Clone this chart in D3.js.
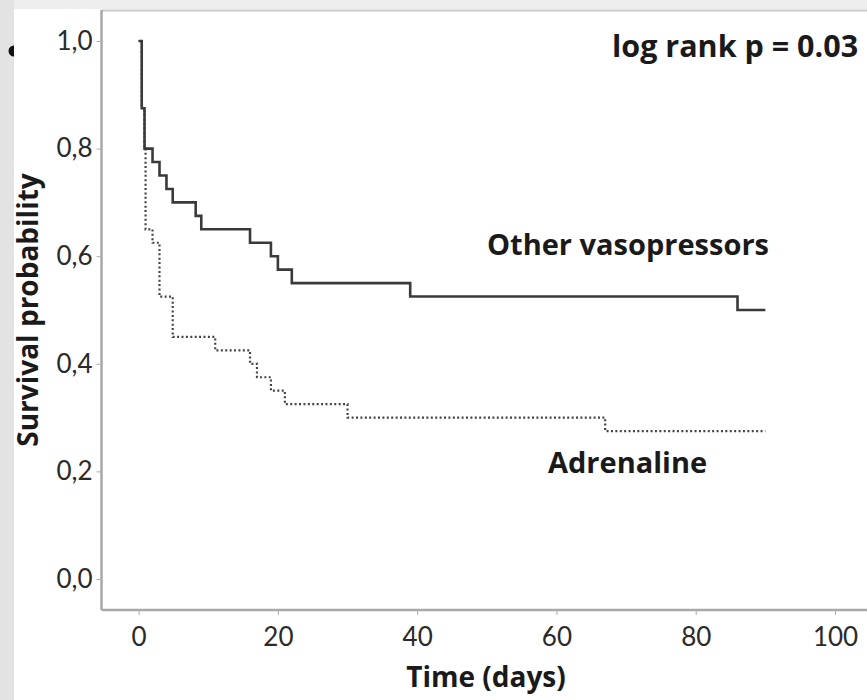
<!DOCTYPE html>
<html>
<head>
    <style>
        html,
        body {
            width: 100%;
            height: 100%;
            margin: 0;
            padding: 0;
            overflow: hidden;
            background: #e3e3e3;
        }
        text {
            font-family: "Open Sans", Lato, sans-serif;
        }
    </style>
</head>
<body>
<script src="https://d3js.org/d3.v7.min.js"></script>
<script>
    // Kaplan-Meier steps (time in days, survival probability)
    const otherTimes = [0, 0.45, 0.85, 2, 3, 4, 4.9, 8.2, 9, 16, 19, 20, 22, 39, 86, 90];
    const otherSurv = [1.0, 0.875, 0.8, 0.775, 0.75, 0.725, 0.7, 0.675, 0.65, 0.625, 0.6, 0.575, 0.55, 0.525, 0.5, 0.5];

    const adrTimes = [0, 0.45, 0.85, 1, 2, 3, 4.9, 11, 16, 17, 19, 21, 30, 67, 90];
    const adrSurv = [1.0, 0.875, 0.8, 0.65, 0.625, 0.525, 0.45, 0.425, 0.4, 0.375, 0.35, 0.325, 0.3, 0.275, 0.275];

    const xTicks = [0, 20, 40, 60, 80, 100];
    const yTicks = [0, 0.2, 0.4, 0.6, 0.8, 1.0];

    const width = 867;
    const height = 700;

    const svg = d3.select("body")
        .append("svg")
        .attr("width", width)
        .attr("height", height);

    // the slide background: grey strips left and top, a bullet peeking out
    svg.append("rect")
        .attr("x", 14).attr("y", 0)
        .attr("width", width - 14).attr("height", 9)
        .attr("fill", "#eeeeee");
    svg.append("circle")
        .attr("cx", 14).attr("cy", 51).attr("r", 5.5)
        .attr("fill", "#111");
    svg.append("rect")
        .attr("x", 14).attr("y", 9)
        .attr("width", width - 14).attr("height", height - 9)
        .attr("fill", "#fff");

    const x = d3.scaleLinear().domain([0, 100]).range([138.6, 835]);
    const y = d3.scaleLinear().domain([0, 1]).range([579, 41]);

    const axisLeftX = 101.5;
    const axisBottomY = 610;

    // frame lines
    svg.append("line")
        .attr("x1", axisLeftX).attr("x2", width)
        .attr("y1", 10.5).attr("y2", 10.5)
        .style("stroke", "#cacaca")
        .style("stroke-width", 2);
    svg.append("line")
        .attr("x1", axisLeftX).attr("x2", axisLeftX)
        .attr("y1", 10).attr("y2", axisBottomY)
        .style("stroke", "#a8a8a8")
        .style("stroke-width", 2.5);
    svg.append("line")
        .attr("x1", axisLeftX).attr("x2", width)
        .attr("y1", axisBottomY).attr("y2", axisBottomY)
        .style("stroke", "#a8a8a8")
        .style("stroke-width", 2.5);

    // y axis
    const yAxis = svg.append("g")
        .attr("transform", `translate(${axisLeftX - 1},0)`)
        .call(d3.axisLeft(y)
            .tickValues(yTicks)
            .tickSize(4)
            .tickPadding(4)
            .tickFormat(d => d3.format(".1f")(d).replace(".", ",")));
    yAxis.select(".domain").remove();

    // x axis
    const xAxis = svg.append("g")
        .attr("transform", `translate(0,${axisBottomY + 1})`)
        .call(d3.axisBottom(x)
            .tickValues(xTicks)
            .tickSize(4)
            .tickPadding(13));
    xAxis.select(".domain").remove();

    svg.selectAll(".tick line")
        .style("stroke", "#aaa");
    svg.selectAll(".tick text")
        .style("font-family", "Lato, sans-serif")
        .style("font-size", "26px")
        .style("fill", "#2a2a2a");

    // survival curves
    const line = d3.line()
        .x(d => x(d[0]))
        .y(d => y(d[1]))
        .curve(d3.curveStepAfter);

    svg.append("path")
        .datum(d3.zip(adrTimes, adrSurv))
        .attr("d", line)
        .style("fill", "none")
        .style("stroke", "#444")
        .style("stroke-width", 2.2)
        .style("stroke-dasharray", "2,2.4");

    svg.append("path")
        .datum(d3.zip(otherTimes, otherSurv))
        .attr("d", line)
        .style("fill", "none")
        .style("stroke", "#3a3a3a")
        .style("stroke-width", 2.6);

    // labels
    const label = (txt, px, py, size) => svg.append("text")
        .attr("x", px)
        .attr("y", py)
        .style("font-size", size + "px")
        .style("font-weight", "bold")
        .style("fill", "#1a1a1a")
        .text(txt);

    label("log rank p = 0.03", 612, 57, 30.5);
    label("Other vasopressors", 487, 255, 29);
    label("Adrenaline", 548, 473, 29);
    label("Time (days)", 486, 687, 28).style("text-anchor", "middle");
    label("Survival probability", 0, 0, 28)
        .style("text-anchor", "middle")
        .attr("transform", "translate(38,310) rotate(-90)");
</script>
</body>
</html>
